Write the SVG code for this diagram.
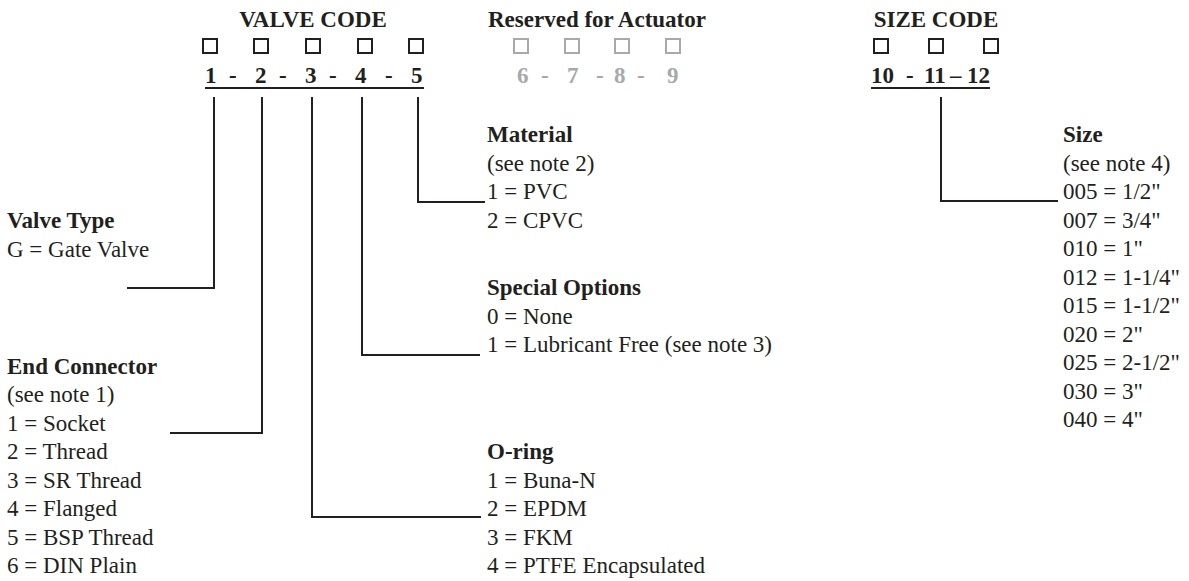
<svg xmlns="http://www.w3.org/2000/svg" width="1189" height="581" viewBox="0 0 1189 581">
<style>
text{font-family:"Liberation Serif","Times New Roman",serif;font-size:23px;fill:#231f20}
.b{font-weight:bold}
.g{fill:#a7a9ac}
.box{fill:none;stroke:#231f20;stroke-width:2}
.gbox{fill:none;stroke:#a7a9ac;stroke-width:2}
.ul{stroke:#231f20;stroke-width:2}
.conn path{fill:none;stroke:#231f20;stroke-width:2}
</style>
<rect width="1189" height="581" fill="#fff"/>
<g id="valve-code">
<text class="b" x="313" y="27" text-anchor="middle">VALVE CODE</text>
<rect class="box" x="203" y="39" width="14" height="14"/>
<rect class="box" x="254" y="39" width="14" height="14"/>
<rect class="box" x="306" y="39" width="14" height="14"/>
<rect class="box" x="358" y="39" width="14" height="14"/>
<rect class="box" x="409" y="39" width="14" height="14"/>
<text class="b" y="83"><tspan x="205">1 </tspan><tspan x="229">- </tspan><tspan x="255">2 </tspan><tspan x="279">- </tspan><tspan x="305">3 </tspan><tspan x="329">- </tspan><tspan x="355">4 </tspan><tspan x="385">- </tspan><tspan x="411">5</tspan></text>
<line class="ul" x1="205" y1="88" x2="424" y2="88"/>
</g>
<g id="reserved">
<text class="b" x="597" y="27" text-anchor="middle">Reserved for Actuator</text>
<rect class="gbox" x="514" y="39" width="14" height="14"/>
<rect class="gbox" x="565" y="39" width="14" height="14"/>
<rect class="gbox" x="615" y="39" width="14" height="14"/>
<rect class="gbox" x="666" y="39" width="14" height="14"/>
<text class="b g" y="83"><tspan x="517">6 </tspan><tspan x="541">- </tspan><tspan x="567">7 </tspan><tspan x="596">- </tspan><tspan x="614">8 </tspan><tspan x="637">- </tspan><tspan x="667">9</tspan></text>
</g>
<g id="size-code">
<text class="b" x="936" y="27" text-anchor="middle">SIZE CODE</text>
<rect class="box" x="874" y="39" width="14" height="14"/>
<rect class="box" x="929" y="39" width="14" height="14"/>
<rect class="box" x="984" y="39" width="14" height="14"/>
<text class="b" y="83"><tspan x="871">10 </tspan><tspan x="906">- </tspan><tspan x="924">11 </tspan><tspan x="950">– </tspan><tspan x="967">12</tspan></text>
<line class="ul" x1="871" y1="88" x2="990" y2="88"/>
</g>
<g class="conn" id="connectors">
<path d="M214,97 V288 H127"/>
<path d="M262,97 V433 H170"/>
<path d="M312,97 V517 H481"/>
<path d="M362,97 V355 H480"/>
<path d="M418,97 V202 H485"/>
<path d="M941,97 V201 H1058"/>
</g>
<g id="valve-type">
<text class="b" x="7" y="228">Valve Type</text>
<text x="7" y="257">G = Gate Valve</text>
</g>
<g id="end-connector">
<text class="b" x="7" y="373.5">End Connector</text>
<text x="7" y="402">(see note 1)</text>
<text x="7" y="430.5">1 = Socket</text>
<text x="7" y="459">2 = Thread</text>
<text x="7" y="487.5">3 = SR Thread</text>
<text x="7" y="516">4 = Flanged</text>
<text x="7" y="544.5">5 = BSP Thread</text>
<text x="7" y="573">6 = DIN Plain</text>
</g>
<g id="o-ring">
<text class="b" x="487" y="459">O-ring</text>
<text x="487" y="487.5">1 = Buna-N</text>
<text x="487" y="516">2 = EPDM</text>
<text x="487" y="544.5">3 = FKM</text>
<text x="487" y="573">4 = PTFE Encapsulated</text>
</g>
<g id="special-options">
<text class="b" x="487" y="295">Special Options</text>
<text x="487" y="323.5">0 = None</text>
<text x="487" y="352">1 = Lubricant Free (see note 3)</text>
</g>
<g id="material">
<text class="b" x="487" y="142">Material</text>
<text x="487" y="170.5">(see note 2)</text>
<text x="487" y="199">1 = PVC</text>
<text x="487" y="227.5">2 = CPVC</text>
</g>
<g id="size">
<text class="b" x="1063" y="142">Size</text>
<text x="1063" y="170.5">(see note 4)</text>
<text x="1063" y="199">005 = 1/2"</text>
<text x="1063" y="227.5">007 = 3/4"</text>
<text x="1063" y="256">010 = 1"</text>
<text x="1063" y="284.5">012 = 1-1/4"</text>
<text x="1063" y="313">015 = 1-1/2"</text>
<text x="1063" y="341.5">020 = 2"</text>
<text x="1063" y="370">025 = 2-1/2"</text>
<text x="1063" y="398.5">030 = 3"</text>
<text x="1063" y="427">040 = 4"</text>
</g>
</svg>
